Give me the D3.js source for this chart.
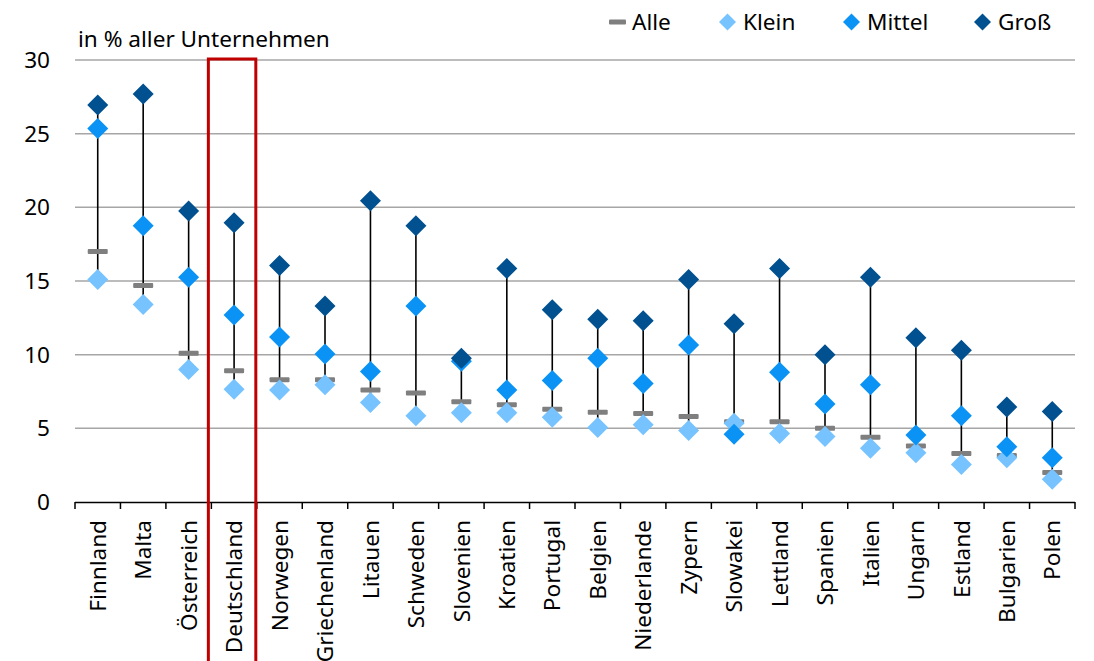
<!DOCTYPE html>
<html><head><meta charset="utf-8">
<script src="https://cdn.jsdelivr.net/npm/d3@7"></script>
<style>body{margin:0;background:#fff}svg{display:block}text{font-family:"Noto Sans",sans-serif;fill:#000}</style>
</head><body><svg id="c" width="1094" height="661"></svg>
<script>
const countries = ["Finnland","Malta","Österreich","Deutschland","Norwegen","Griechenland","Litauen","Schweden","Slovenien","Kroatien","Portugal","Belgien","Niederlande","Zypern","Slowakei","Lettland","Spanien","Italien","Ungarn","Estland","Bulgarien","Polen"];
const alle   = [17.0,14.7,10.1,8.9,8.3,8.3,7.6,7.4,6.8,6.6,6.3,6.1,6.0,5.8,5.45,5.45,5.0,4.4,3.8,3.3,3.15,2.0];
const klein  = [15.1,13.4,9.0,7.65,7.6,7.95,6.75,5.85,6.05,6.05,5.75,5.05,5.25,4.85,5.35,4.65,4.45,3.65,3.35,2.55,3.0,1.55];
const mittel = [25.35,18.75,15.25,12.7,11.2,10.05,8.85,13.3,9.55,7.6,8.25,9.75,8.05,10.65,4.6,8.8,6.65,7.95,4.55,5.85,3.75,3.0];
const gross  = [26.95,27.7,19.75,18.95,16.05,13.3,20.45,18.75,9.75,15.85,13.05,12.4,12.3,15.1,12.1,15.85,10.0,15.25,11.15,10.3,6.45,6.15];
const yTicks = [0,5,10,15,20,25,30];
const highlight = "Deutschland";
const legendItems = ["Alle","Klein","Mittel","Groß"];

const colors = {Klein:"#77c3ff", Mittel:"#0a93f4", "Groß":"#01508f", Alle:"#7f7f7f"};
const svg = d3.select("#c");
const L=75, R=1075, T=60, B=502;
const x = d3.scaleBand().domain(countries).range([L,R]).padding(0);
const y = d3.scaleLinear().domain([0,30]).range([B,T]);
const fs = 22.6;

// gridlines
svg.append("g").selectAll("line").data(yTicks.filter(d=>d>0)).join("line")
  .attr("x1",L).attr("x2",R).attr("y1",d=>y(d)).attr("y2",d=>y(d))
  .attr("stroke","#a6a6a6").attr("stroke-width",1.5);

// y labels
svg.append("g").selectAll("text").data(yTicks).join("text")
  .attr("x",50).attr("y",d=>y(d)).attr("dy","0.36em").attr("text-anchor","end")
  .attr("font-size",fs).text(d=>d);

svg.append("text").attr("x",78).attr("y",47).attr("font-size",fs).text("in % aller Unternehmen");

// x axis
const xa = svg.append("g");
xa.append("line").attr("x1",L).attr("x2",R).attr("y1",B+0.5).attr("y2",B+0.5).attr("stroke","#000").attr("stroke-width",1.5);
const edges = countries.map(c=>x(c)).concat([R]);
xa.selectAll("line.t").data(edges).join("line").attr("class","t")
  .attr("x1",d=>d).attr("x2",d=>d).attr("y1",B).attr("y2",B+7).attr("stroke","#000").attr("stroke-width",1.5);
xa.selectAll("text").data(countries).join("text")
  .attr("transform",d=>`translate(${x(d)+x.bandwidth()/2},${B+18}) rotate(-90)`)
  .attr("dy","0.36em").attr("text-anchor","end").attr("font-size",fs).text(d=>d);

// range lines
const rows = countries.map((c,i)=>({c, alle:alle[i], klein:klein[i], mittel:mittel[i], gross:gross[i]}));
const cx = d=>x(d.c)+x.bandwidth()/2;
svg.append("g").selectAll("line").data(rows).join("line")
  .attr("x1",cx).attr("x2",cx)
  .attr("y1",d=>y(Math.max(d.alle,d.klein,d.mittel,d.gross)))
  .attr("y2",d=>y(Math.min(d.alle,d.klein,d.mittel,d.gross)))
  .attr("stroke","#000").attr("stroke-width",1.6);

// Alle dashes
svg.append("g").selectAll("rect").data(rows).join("rect")
  .attr("x",d=>cx(d)-10).attr("y",d=>y(d.alle)-2.5).attr("width",20).attr("height",5).attr("rx",1)
  .attr("fill",colors.Alle);

const diamond = (s)=>`M0,${-s}L${s},0L0,${s}L${-s},0Z`;
[["klein","Klein"],["mittel","Mittel"],["gross","Groß"]].forEach(([k,n])=>{
  svg.append("g").selectAll("path").data(rows).join("path")
    .attr("d",diamond(10.5))
    .attr("transform",d=>`translate(${cx(d)},${y(d[k])})`)
    .attr("fill",colors[n]);
});

// highlight box
svg.append("rect").attr("x",x(highlight)-3).attr("y",T-1).attr("width",x.bandwidth()+2).attr("height",700)
  .attr("fill","none").attr("stroke","#c00000").attr("stroke-width",3);

// legend
const lg = svg.append("g");
const lx = [609, 719, 843, 974];
legendItems.forEach((n,i)=>{
  const g = lg.append("g").attr("transform",`translate(${lx[i]},22)`);
  if(n==="Alle") g.append("rect").attr("x",0).attr("y",-2.5).attr("width",17).attr("height",5).attr("rx",1).attr("fill",colors.Alle);
  else g.append("path").attr("d",diamond(8.5)).attr("transform","translate(8.5,0)").attr("fill",colors[n]);
  g.append("text").attr("x",n==="Alle"?23:24).attr("y",0).attr("dy","0.36em").attr("font-size",fs).text(n);
});
</script></body></html>
